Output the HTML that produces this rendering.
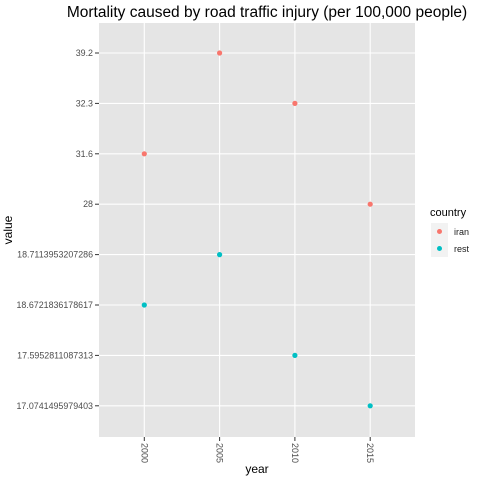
<!DOCTYPE html>
<html><head><meta charset="utf-8"><style>
body{margin:0;background:#fff}
svg{display:block;font-family:"Liberation Sans",Arial,sans-serif}
</style></head><body>
<svg id="chart" width="480" height="480">
<text x="267" y="17" text-anchor="middle" font-size="15.5" fill="#000">Mortality caused by road traffic injury (per 100,000 people)</text>
<rect x="99" y="23" width="316" height="414" fill="#e5e5e5"/>
<g id="grid"></g><g id="yaxis"></g><g id="xaxis"></g><g id="points"></g>
<text x="257" y="473" text-anchor="middle" font-size="12" fill="#000">year</text>
<text transform="translate(12,230) rotate(-90)" text-anchor="middle" font-size="12" fill="#000">value</text>
<g>
<text x="430" y="216" font-size="11" fill="#000">country</text>
<g>
<rect x="431" y="223" width="17" height="17" fill="#f2f2f2"/>
<circle cx="439.5" cy="231.5" r="2.5" fill="#F8766D"/>
<text x="454" y="235" font-size="9" fill="#1a1a1a">iran</text></g>
<g>
<rect x="431" y="240" width="17" height="17" fill="#f2f2f2"/>
<circle cx="439.5" cy="248.5" r="2.5" fill="#00BFC4"/>
<text x="454" y="252" font-size="9" fill="#1a1a1a">rest</text></g>
</g>
</svg>
<script>
const years=["2000","2005","2010","2015"];
const yLevels=["39.2","32.3","31.6","28","18.7113953207286","18.6721836178617","17.5952811087313","17.0741495979403"];
const iranValues=["31.6","39.2","32.3","28"];
const restValues=["18.6721836178617","18.7113953207286","17.5952811087313","17.0741495979403"];
const NS="http://www.w3.org/2000/svg";
function xPos(y){return 144.3+years.indexOf(y)*75.3;}
function yPos(v){return 53+yLevels.indexOf(v)*50.4;}
function mk(tag,attrs,parent){const e=document.createElementNS(NS,tag);for(const k in attrs)e.setAttribute(k,attrs[k]);parent.appendChild(e);return e;}
const grid=document.getElementById('grid'),ya=document.getElementById('yaxis'),xa=document.getElementById('xaxis'),pts=document.getElementById('points');
yLevels.forEach(v=>{const y=yPos(v);
const l=mk('line',{x1:99,x2:415,y1:y,y2:y,stroke:'#fff','stroke-width':1.1},grid);


const t=mk('line',{x1:95,x2:99,y1:y,y2:y,stroke:'#333'},ya);


const tx=mk('text',{x:93,y:y+3,'text-anchor':'end','font-size':8.9,fill:'#4d4d4d'},ya);tx.textContent=v;


});
years.forEach(yr=>{const x=xPos(yr);
const l=mk('line',{x1:x,x2:x,y1:23,y2:437,stroke:'#fff','stroke-width':1.1},grid);


const t=mk('line',{x1:x,x2:x,y1:437,y2:441,stroke:'#333'},xa);


const tx=mk('text',{transform:`translate(${x-3},443) rotate(90)`,'font-size':9,fill:'#4d4d4d'},xa);tx.textContent=yr;


});
function series(vals,color,name){vals.forEach((v,i)=>{
const c=mk('circle',{cx:xPos(years[i]),cy:yPos(v),r:2.6,fill:color},pts);


});}
series(iranValues,'#F8766D','iran');
series(restValues,'#00BFC4','rest');
</script>
</body></html>
